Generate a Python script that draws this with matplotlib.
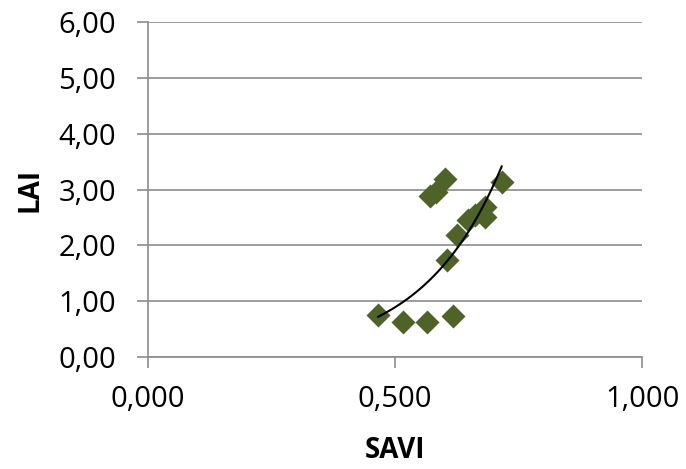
import numpy as np
import matplotlib.pyplot as plt

SAVI = [0.466, 0.517, 0.565, 0.618, 0.606, 0.626, 0.648, 0.662, 0.682, 0.682,
        0.716, 0.571, 0.584, 0.601]
LAI = [0.76, 0.62, 0.62, 0.74, 1.74, 2.19, 2.45, 2.54, 2.69, 2.50,
       3.13, 2.89, 2.96, 3.18]

X_TICKS = [0.0, 0.5, 1.0]
X_LABELS = ['0,000', '0,500', '1,000']
Y_TICKS = [0, 1, 2, 3, 4, 5, 6]
Y_LABELS = ['0,00', '1,00', '2,00', '3,00', '4,00', '5,00', '6,00']

GRID = '#8c8c8c'
MARKER = '#4f6228'

plt.rcParams['font.family'] = ['Open Sans', 'DejaVu Sans']

fig = plt.figure(figsize=(6.86, 4.69), dpi=100)
ax = fig.add_axes([148 / 686, 1 - 357 / 469, (642 - 148) / 686, (357 - 22) / 469])

ax.scatter(SAVI, LAI, marker='D', s=150, color=MARKER, linewidths=0, zorder=3)

# exponential trend line fitted to the points
x = np.array(SAVI)
b, ln_a = np.polyfit(x, np.log(LAI), 1)
xs = np.linspace(x.min(), x.max(), 100)
ax.plot(xs, np.exp(ln_a) * np.exp(b * xs), color='black', linewidth=1.5, zorder=4)

ax.set_xlim(0, 1)
ax.set_ylim(0, 6)
ax.set_xticks(X_TICKS)
ax.set_xticklabels(X_LABELS)
ax.set_yticks(Y_TICKS)
ax.set_yticklabels(Y_LABELS)
ax.grid(axis='y', color=GRID, linewidth=1.2)
ax.set_axisbelow(True)
for s in ('top', 'right'):
    ax.spines[s].set_visible(False)
for s in ('left', 'bottom'):
    ax.spines[s].set_color(GRID)
    ax.spines[s].set_linewidth(1.2)
ax.tick_params(colors=GRID, labelcolor='black', labelsize=21, length=8, width=1.2)
ax.tick_params(axis='x', pad=12)
ax.tick_params(axis='y', pad=15)
ax.set_xlabel('SAVI', fontsize=20, fontweight='bold', labelpad=16)
ax.set_ylabel('LAI', fontsize=20, fontweight='bold', labelpad=10)

fig.savefig('out.png', dpi=100)
